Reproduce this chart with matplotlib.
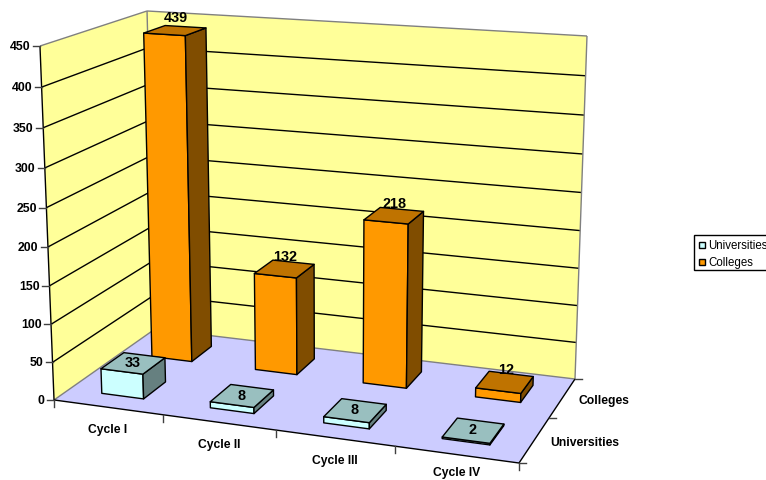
"""
3D clustered bars of institutions by cycle, drawn on a flat axes with a fitted perspective camera.
"""
import numpy as np
import matplotlib
matplotlib.use("Agg")
import matplotlib.pyplot as plt
from matplotlib.patches import Polygon, Rectangle

plt.rcParams["font.family"] = ["Liberation Sans", "DejaVu Sans"]

categories = ["Cycle I", "Cycle II", "Cycle III", "Cycle IV"]
series_names = ["Universities", "Colleges"]
universities = [33, 8, 8, 2]
colleges = [439, 132, 218, 12]
z_ticks = [0, 50, 100, 150, 200, 250, 300, 350, 400, 450]
z_max = 450

# front, top, side colours per series
colors_uni = ("#CCFFFF", "#99BFBF", "#668080")
colors_col = ("#FF9900", "#BF7300", "#804D00")

# box corners (x, series, value) and where they land in the picture, used to fit the camera
box_corners = [(0, 0, 0), (4, 0, 0), (4, 2, 0), (0, 2, 0), (0, 0, 450), (0, 2, 450), (4, 2, 450)]
box_pixels = [(54, 401), (519, 464), (575, 380), (155, 330), (40, 47), (147, 12), (587, 37)]

BAR_W = 0.39
BAR_D = 0.44


def fit_camera():
    rows = []
    for (x, y, z), (u, v) in zip(box_corners, box_pixels):
        p = [x / 4, y / 2, z / z_max, 1]
        rows.append(p + [0, 0, 0, 0] + [-u * c for c in p])
        rows.append([0, 0, 0, 0] + p + [-v * c for c in p])
    return np.linalg.svd(np.array(rows))[2][-1].reshape(3, 4)


CAM = fit_camera()


def proj(x, y, z):
    h = CAM @ np.array([x / 4, y / 2, z / z_max, 1])
    return h[0] / h[2], h[1] / h[2]


def face(ax, pts, color, edge="black", lw=1.0, z=1):
    ax.add_patch(Polygon([proj(*p) for p in pts], closed=True, facecolor=color,
                         edgecolor=edge, linewidth=lw, joinstyle="round", zorder=z))


def line(ax, a, b, color="black", lw=1.0, z=2):
    (x0, y0), (x1, y1) = proj(*a), proj(*b)
    ax.plot([x0, x1], [y0, y1], color=color, lw=lw, zorder=z, solid_capstyle="butt")


def bar(ax, i, s, value, colors, label_dx, label_dy, order):
    x0, x1 = i + 0.5 - BAR_W / 2, i + 0.5 + BAR_W / 2
    y0, y1 = s + 0.5 - BAR_D / 2, s + 0.5 + BAR_D / 2
    face(ax, [(x0, y0, 0), (x1, y0, 0), (x1, y0, value), (x0, y0, value)], colors[0], z=order)
    face(ax, [(x1, y0, 0), (x1, y1, 0), (x1, y1, value), (x1, y0, value)], colors[2], z=order)
    face(ax, [(x0, y0, value), (x1, y0, value), (x1, y1, value), (x0, y1, value)], colors[1], z=order)
    u, v = proj(i + 0.5, s + 0.5, value)
    ax.text(u + label_dx, v + label_dy, str(value), ha="center", va="center", fontsize=10.4,
            fontweight="bold", color="black", zorder=20)


def main():
    fig = plt.figure(figsize=(7.66, 4.81), dpi=100)
    ax = fig.add_axes([0, 0, 1, 1])
    ax.set_xlim(0, 766)
    ax.set_ylim(481, 0)
    ax.axis("off")

    # Walls and floor
    face(ax, [(0, 0, 0), (0, 2, 0), (0, 2, z_max), (0, 0, z_max)], "#FFFF99", edge="none")
    face(ax, [(0, 2, 0), (4, 2, 0), (4, 2, z_max), (0, 2, z_max)], "#FFFF99", edge="none")
    for t in z_ticks[1:-1]:
        line(ax, (0, 0, t), (0, 2, t))
        line(ax, (0, 2, t), (4, 2, t))
    line(ax, (0, 0, z_max), (0, 2, z_max), color="#808080")
    line(ax, (0, 2, z_max), (4, 2, z_max), color="#808080")
    line(ax, (0, 2, 0), (0, 2, z_max), color="#808080")
    line(ax, (4, 2, 0), (4, 2, z_max), color="#808080")
    face(ax, [(0, 0, 0), (4, 0, 0), (4, 2, 0), (0, 2, 0)], "#CCCCFF", edge="none", z=3)
    line(ax, (0, 2, 0), (4, 2, 0), color="#808080", z=4)
    line(ax, (0, 2, 0), (0, 0, 0), color="#808080", z=4)

    # Axis lines and ticks
    line(ax, (0, 0, 0), (0, 0, z_max), z=5)
    line(ax, (0, 0, 0), (4, 0, 0), z=5)
    line(ax, (4, 0, 0), (4, 2, 0), z=5)
    for t in z_ticks:
        u, v = proj(0, 0, t)
        ax.plot([u - 7, u], [v, v], color="#404040", lw=1, zorder=5)
        ax.text(u - 9.5, v, str(t), ha="right", va="center", fontsize=8.8, fontweight="bold")
    for i in range(5):
        u, v = proj(i, 0, 0)
        ax.plot([u, u], [v, v + 7], color="#404040", lw=1, zorder=5)
    for s in range(3):
        u, v = proj(4, s, 0)
        ax.plot([u, u + 7], [v, v], color="#404040", lw=1, zorder=5)
    for i, name in enumerate(categories):
        u, v = proj(i + 0.5, 0, 0)
        # the last label would run off the bottom edge otherwise
        ax.text(u, min(v + 21.5, 473), name, ha="center", va="center", fontsize=8.7, fontweight="bold")
    for s, name in enumerate(series_names):
        u, v = proj(4, s + 0.5, 0)
        ax.text(u + 16, v + 1.5, name, ha="left", va="center", fontsize=8.7, fontweight="bold")

    # Bars, back row first
    for i, value in enumerate(colleges):
        bar(ax, i, 1, value, colors_col, 1, -13, 6 + i)
    for i, value in enumerate(universities):
        bar(ax, i, 0, value, colors_uni, -1, -1, 11 + i)

    # Legend runs off the right edge in the reference
    ax.add_patch(Rectangle((694, 236), 80, 35, facecolor="white", edgecolor="black", lw=1, zorder=21))
    for k, (name, colors) in enumerate(zip(series_names, (colors_uni, colors_col))):
        yc = 246 + k * 17
        ax.add_patch(Rectangle((698.5, yc - 3), 6, 6, facecolor=colors[0], edgecolor="black",
                               lw=1, zorder=22))
        ax.text(708, yc, name, ha="left", va="center", fontsize=8.3, zorder=22)

    fig.savefig("out.png", dpi=100, facecolor="white")
    plt.close(fig)


if __name__ == "__main__":
    main()
